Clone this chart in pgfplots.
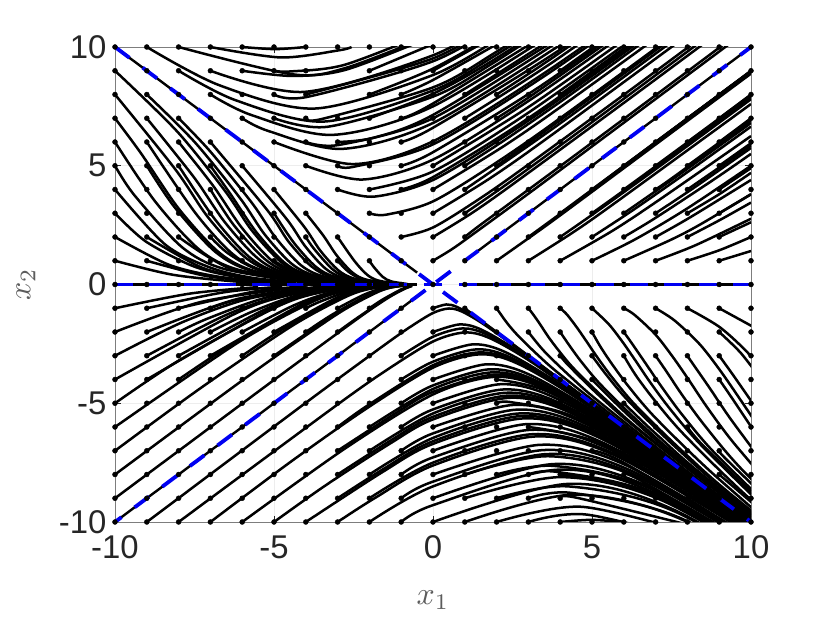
\documentclass[border=0pt]{standalone}
\usepackage{fontspec}
\setmainfont{Liberation Sans}
\usepackage{pgfplots}
\pgfplotsset{compat=1.18}
\definecolor{tk}{gray}{0.15}
\def\lw{2.5bp}
\newcommand\C[1]{\addplot[black,line width=\lw,smooth,tension=0.5] coordinates {#1};}
\newcommand\Cl[1]{\addplot[black,line width=2.4bp] coordinates {#1};}
\begin{document}
\begin{tikzpicture}
\path[use as bounding box] (-115bp,-101bp) rectangle (715bp,522bp);
\begin{axis}[at={(0,0)},anchor=south west,scale only axis,width=636bp,height=475bp,
xmin=-10,xmax=10,ymin=-10,ymax=10,clip mode=individual,
xtick={-10,-5,0,5,10},ytick={-10,-5,0,5,10},
xticklabels={-10,-5,0,5,10},yticklabels={-10,-5,0,5,10},
tick align=inside,major tick length=6bp,
tick style={tk,line width=0.5bp},axis line style={tk!60,line width=0.7bp},
grid=major,grid style={black!7,line width=0.5bp},
ticklabel style={font=\fontsize{33}{33}\selectfont,text=tk},
xticklabel style={yshift=-10bp},yticklabel style={xshift=-5bp},
xlabel={$x_1$},ylabel={$x_2$},
xlabel style={at={(axis description cs:0.5,0)},anchor=center,yshift=-78bp,scale=3.2,text=tk!75},
ylabel style={at={(axis description cs:0,0.5)},anchor=center,yshift=89bp,scale=3.2,text=tk!75},
]
\Cl{(-10,0)(-0.5,0)}\Cl{(1,0)(10,0)}\Cl{(-10,10)(-0.5,0.5)}\Cl{(-10,-10)(-0.6,-0.6)}\Cl{(1,1)(10,10)}\Cl{(1,-1)(10,-10)}
% top wedge
\C{(0,1)(0.6,1.49)(1.28,2.14)(3.29,4.11)(7.26,8.07)(15.2,16)}
\C{(1,2)(1.54,2.56)(3.95,4.93)(8.71,9.68)(18.2,19.2)}
\C{(0,2)(1.19,2.98)(2.56,4.27)(6.58,8.22)(14.5,16.1)}
\C{(1,3)(2.82,4.7)(7.23,9.04)(16,17.8)}
\C{(-1,2)(0,2.4)(1.43,3.58)(3.08,5.13)(7.89,9.86)(17.4,19.4)}
\C{(0,3)(1.79,4.47)(3.85,6.41)(9.86,12.33)}
\C{(1,4)(4.17,6.95)(10.69,13.36)}
\C{(2,5)(4.36,7.27)(11.18,13.97)}
\C{(-2,3)(-1.47,2.94)(0,3.5)(2.09,5.22)(4.49,7.48)(11.51,14.39)}
\C{(0,4)(2.38,5.96)(5.13,8.55)(13.2,16.4)}
\C{(1,5)(2.53,6.33)(5.45,9.08)(14,17.5)}
\C{(-3,4)(-1.85,3.7)(0,4.4)(2.62,6.56)(5.64,9.4)(14.5,18.1)}
\C{(-1,4)(0,4.52)(2.69,6.73)(5.8,9.66)(14.9,18.6)}
\C{(4,8)(5.94,9.89)(15.2,19)}
\C{(-2,4)(0,4.76)(2.84,7.09)(6.1,10.17)}
\C{(0,5)(2.98,7.45)(6.41,10.69)}
\C{(-4,5)(-2.21,4.42)(0,5.26)(3.13,7.84)(6.74,11.24)}
\C{(2,7)(3.24,8.09)(6.96,11.6)}
\C{(-1,5)(0,5.57)(3.32,8.3)(7.14,11.9)}
\C{(4,9)(7.28,12.14)}
\C{(-3,5)(-2.48,4.96)(0,5.9)(3.52,8.79)(7.56,12.6)}
\C{(-5,6)(-2.53,5.07)(0,6.03)(3.59,8.98)(7.73,12.89)}
\C{(1,7)(3.74,9.34)(8.04,13.4)}
\C{(2,8)(3.85,9.63)(8.28,13.8)}
\C{(-1,6)(0,6.6)(3.93,9.83)(8.46,14.1)}
\C{(-6,7)(-5.17,6.46)(-2.86,5.71)(0,6.8)(4.05,10.13)}
\C{(-4,6)(-2.94,5.88)(0,7)(4.17,10.43)}
\C{(-3,6)(-1.86,6.18)(0,7.14)(4.26,10.64)}
\C{(1,8)(4.34,10.85)}
\C{(-7,8)(-5.7,7.13)(-3.15,6.3)(0,7.5)(4.47,11.18)}
\C{(-1,7)(0,7.62)(4.54,11.35)}
\C{(-5,7)(-3.32,6.64)(0,7.91)(1.86,9.3)(4.71,11.79)}
\C{(-2,7)(0,8.03)(1.89,9.44)(4.79,11.96)}
\C{(-8,9)(-6.21,7.76)(-3.43,6.86)(0,8.17)(1.92,9.61)(4.87,12.17)}
\C{(-4,7)(-3.49,6.97)(0,8.3)(1.95,9.76)(4.95,12.37)}
\C{(-1,8)(0,8.61)(2.02,10.13)}
\C{(-9,10)(-6.7,8.38)(-3.7,7.41)(0,8.82)(2.07,10.37)}
\C{(0,9)(2.12,10.58)}
\C{(-2,8)(0,9.09)(2.14,10.69)}
\C{(-5,8)(-3.95,7.9)(0,9.4)(2.21,11.05)}
\C{(-4,8)(0,9.52)(2.24,11.2)}
\C{(-7,9)(-4.05,8.11)(0,9.65)(2.27,11.35)}
\C{(-2,9)(0,10.12)}
\C{(-6,9)(-4.39,8.78)(-2.72,9.05)(0,10.45)}
\C{(-8,10)(-4.42,8.85)(-2.74,9.12)(0,10.53)}
\C{(-5,9)(-4.49,8.97)(-2.78,9.25)(0,10.68)}
\C{(-7,10)(-4.78,9.56)(-2.96,9.86)(-2.56,10)}
\C{(-6,10)(-4.96,9.91)(-4,10)}
% bottom wedge
\def\lw{3bp}
\C{(0,-1)(0.42,-0.84)(0.76,-0.95)(1.32,-1.39)(2.31,-2.33)(5,-5)(10.8,-10.8)}
\C{(-9,-10)(-3.95,-4.93)(-1.54,-2.56)(-0.72,-1.79)(0,-1.2)(0.5,-1.01)(0.91,-1.14)(1.59,-1.67)(2.77,-2.8)(6,-6)(10.8,-10.8)}
\C{(0,-2)(0.84,-1.68)(1.52,-1.9)(2.65,-2.79)(4.62,-4.67)(10,-10)}
\C{(-1,-3)(0,-2.2)(0.92,-1.85)(1.67,-2.09)(2.91,-3.06)(5.08,-5.13)(11,-11)}
\C{(-8,-10)(-3.08,-5.13)(-1.43,-3.58)(0,-2.4)(1,-2.02)(1.82,-2.28)(3.18,-3.34)(5.54,-5.6)(12,-12)}
\C{(0,-3)(1.26,-2.52)(2.28,-2.85)(3.97,-4.18)(6.93,-7)(15,-15)}
\C{(-1,-4)(0,-3.25)(1.37,-2.73)(2.47,-3.09)(4.3,-4.53)(7.51,-7.58)(16.3,-16.3)}
\C{(-3,-6)(-2.03,-5.07)(0,-3.4)(1.43,-2.86)(2.58,-3.23)(4.5,-4.74)(7.85,-7.93)(17,-17)}
\C{(-7,-10)(-4.49,-7.48)(-2.09,-5.22)(0,-3.5)(1.47,-2.94)(2.66,-3.33)(4.63,-4.88)(8.09,-8.17)(17.5,-17.5)}
\C{(0,-4)(1.68,-3.36)(3.04,-3.8)(5.29,-5.57)(9.24,-9.33)(20,-20)}
\C{(-1,-5)(0,-4.25)(1.79,-3.57)(3.23,-4.04)(5.62,-5.92)(9.82,-9.92)(21,-21)}
\C{(-2,-6)(0,-4.4)(1.85,-3.7)(3.34,-4.18)(5.82,-6.13)(10.16,-10.27)}
\C{(-3,-7)(-1.06,-5.32)(0,-4.52)(1.9,-3.8)(3.44,-4.29)(5.98,-6.3)(10.44,-10.55)}
\C{(-6,-10)(-2.76,-6.9)(0,-4.63)(1.94,-3.89)(3.52,-4.4)(6.13,-6.45)(10.7,-10.8)}
\C{(2,-4)(3.62,-4.52)(6.3,-6.63)(11,-11.1)}
\C{(0,-5)(2.1,-4.2)(3.8,-4.75)(6.62,-6.97)(11.55,-11.67)}
\C{(-1,-6)(0,-5.26)(2.21,-4.42)(4,-5)(6.96,-7.33)(12.15,-12.27)}
\C{(-2,-7)(0,-5.43)(2.28,-4.56)(4.13,-5.16)(7.18,-7.56)(12.5,-12.67)}
\C{(-3,-8)(-1.31,-6.55)(0,-5.57)(2.34,-4.68)(4.23,-5.29)(7.37,-7.76)(12.87,-13)}
\C{(-5,-10)(-3.38,-8.46)(-1.33,-6.68)(0,-5.68)(2.39,-4.77)(4.32,-5.4)(7.51,-7.91)(13.1,-13.2)}
\C{(2,-5)(2.48,-4.96)(4.48,-5.6)(7.8,-8.22)(13.6,-13.8)}
\C{(0,-6)(2.53,-5.07)(4.58,-5.73)(7.98,-8.4)(13.9,-14.07)}
\C{(-1,-7)(0,-6.27)(2.63,-5.27)(4.77,-5.96)(8.3,-8.73)(14.5,-14.6)}
\C{(-2,-8)(0,-6.46)(2.71,-5.43)(4.91,-6.14)(8.55,-9)(14.9,-15.1)}
\C{(-3,-9)(-1.55,-7.76)(0,-6.6)(2.77,-5.54)(5.02,-6.27)(8.73,-9.19)(15.2,-15.4)}
\C{(-4,-10)(-1.58,-7.89)(0,-6.71)(2.82,-5.64)(5.1,-6.37)(8.88,-9.35)(15.5,-15.65)}
\C{(6,-7)(8.99,-9.47)(15.7,-15.9)}
\C{(0,-7)(2.94,-5.88)(5.32,-6.65)(9.26,-9.75)(16.2,-16.3)}
\C{(3,-6)(5.43,-6.78)(9.45,-9.95)(16.5,-16.7)}
\C{(-1,-8)(0,-7.28)(3.06,-6.12)(5.53,-6.92)(9.63,-10.14)}
\C{(-2,-9)(0,-7.5)(3.15,-6.3)(5.7,-7.13)(9.92,-10.45)}
\C{(-3,-10)(-1.79,-8.96)(0,-7.62)(3.2,-6.4)(5.79,-7.24)(10.08,-10.6)}
\C{(5,-7)(6.01,-7.51)(10.46,-11)}
\C{(0,-8)(3.37,-6.75)(6.1,-7.63)(10.62,-11.2)}
\C{(8,-9)(10.8,-11.38)}
\C{(-1,-9)(0,-8.3)(3.49,-6.97)(6.31,-7.89)(10.98,-11.56)}
\C{(-2,-10)(0,-8.5)(3.57,-7.14)(6.46,-8.08)(11.25,-11.84)}
\C{(1,-8)(3.62,-7.23)(6.54,-8.18)(11.39,-12)}
\C{(6,-8)(6.7,-8.38)(11.67,-12.29)}
\C{(0,-9)(3.78,-7.56)(6.84,-8.55)(11.9,-12.5)}
\C{(2,-8)(3.82,-7.64)(6.91,-8.64)(12,-12.66)}
\C{(-1,-10)(0,-9.29)(3.9,-7.8)(7.06,-8.83)(12.3,-12.9)}
\C{(3,-8)(3.95,-7.9)(7.14,-8.93)(12.44,-13.1)}
\C{(4,-8)(7.24,-9.04)(12.6,-13.26)}
\C{(1,-9)(4.05,-8.11)(7.33,-9.17)(12.77,-13.44)}
\C{(0,-10)(4.2,-8.4)(7.6,-9.5)(13.2,-13.9)}
\C{(2,-9)(4.25,-8.5)(7.69,-9.61)(13.4,-14.1)}
\C{(3,-9)(4.39,-8.78)(7.94,-9.93)(13.8,-14.6)}
\C{(1,-10)(4.42,-8.85)(8,-10)(13.9,-14.7)}
\C{(4,-9)(4.49,-8.97)(8.12,-10.15)}
\C{(2,-10)(4.68,-9.36)(8.47,-10.58)}
\C{(3,-10)(4.85,-9.69)(8.77,-10.96)}
\C{(4,-10)(4.96,-9.91)(6,-10)}
% upper left wedge
\def\lw{2.8bp}
\C{(-10,1)(-8.18,0.41)(-6.14,0.12)(-4.9,0.05)}
\C{(-9,1)(-7.14,0.36)(-5.36,0.11)}
\C{(-10,2)(-8.32,0.84)(-6.8,0.34)(-5.11,0.1)}
\C{(-10,3)(-9.03,1.81)(-7.52,0.76)(-6.14,0.31)(-4.61,0.09)}
\C{(-9,2)(-7.3,0.73)(-5.96,0.3)(-4.48,0.09)}
\C{(-10,4)(-8.42,1.68)(-7,0.71)(-5.72,0.29)(-4.3,0.09)}
\C{(-10,5)(-9.39,3.76)(-7.9,1.58)(-6.58,0.66)(-4.03,0.08)}
\C{(-8,2)(-6.32,0.64)(-3.88,0.08)}
\C{(-10,6)(-8.74,3.5)(-7.35,1.47)(-6.12,0.62)(-3.75,0.08)}
\C{(-9,5)(-8.13,3.26)(-6.84,1.37)(-5.69,0.57)(-3.49,0.07)}
\C{(-10,7)(-9.17,5.5)(-8,3.2)(-6.73,1.35)(-5.6,0.56)(-3.44,0.07)}
\C{(-7,2)(-6.41,1.28)(-5.33,0.54)(-3.27,0.07)}
\C{(-9,6)(-7.46,2.99)(-6.27,1.25)(-5.22,0.53)(-3.2,0.06)}
\C{(-10,8)(-8.11,4.86)(-7.08,2.84)(-5.95,1.19)(-4.96,0.5)(-3.04,0.06)}
\C{(-8,5)(-6.86,2.75)(-5.78,1.16)(-4.81,0.48)(-2.95,0.06)}
\C{(-9,7)(-7.51,4.5)(-6.55,2.63)(-5.51,1.1)(-4.59,0.46)(-2.81,0.06)}
\C{(-7,4)(-6.27,2.51)(-5.28,1.06)(-4.39,0.44)(-2.69,0.05)}
\C{(-8,6)(-6.91,4.15)(-6.03,2.42)(-5.08,1.02)(-4.23,0.43)(-2.59,0.05)}
\C{(-5,1)(-4.16,0.42)(-2.55,0.05)}
\C{(-10,9)(-8.05,6.45)(-6.53,3.92)(-5.7,2.28)(-4.79,0.96)(-3.99,0.4)(-2.45,0.05)}
\C{(-7,5)(-6.38,3.83)(-5.57,2.23)(-4.69,0.94)(-3.9,0.39)(-2.39,0.05)}
\C{(-9,8)(-7.49,5.99)(-6.07,3.64)(-5.3,2.12)(-4.46,0.89)(-3.71,0.37)(-2.28,0.05)}
\C{(-8,7)(-7.01,5.61)(-5.68,3.41)(-4.96,1.99)(-4.17,0.83)(-3.47,0.35)(-2.13,0.04)}
\C{(-7,6)(-5.21,3.13)(-4.55,1.82)(-3.83,0.77)(-3.19,0.32)(-1.95,0.04)}
\C{(-5,3)(-4.37,1.75)(-3.68,0.74)(-3.06,0.31)(-1.88,0.04)}
\C{(-6,5)(-4.61,2.77)(-4.02,1.61)(-3.39,0.68)(-2.82,0.28)(-1.73,0.03)}
\C{(-4,2)(-3.74,1.5)(-3.15,0.63)(-2.62,0.26)(-1.61,0.03)}
\C{(-5,4)(-4.05,2.43)(-3.54,1.42)(-2.98,0.6)(-2.48,0.25)(-1.52,0.03)}
\C{(-3,1)(-2.65,0.53)(-2.21,0.22)(-1.35,0.03)}
\C{(-4,3)(-3.46,2.08)(-3.02,1.21)(-2.54,0.51)(-2.12,0.21)(-1.3,0.03)}
\C{(-3,2)(-2.47,0.99)(-2.08,0.42)(-1.73,0.17)(-1.06,0.02)}
\C{(-2,1)(-1.87,0.75)(-1.58,0.32)(-1.31,0.13)(-0.8,0.02)}
% lower right wedge
\C{(2,-1)(2.15,-1.29)(2.34,-1.64)(2.65,-2.12)(3.29,-2.96)(4.1,-3.9)(6.98,-6.9)(15,-15)}
\C{(3,-2)(3.49,-2.8)(4.34,-3.9)(5.42,-5.15)(9.2,-9.1)(19.8,-19.8)}
\C{(4,-3)(4.27,-3.42)(5.3,-4.77)(6.62,-6.29)(11.25,-11.13)}
\C{(3,-1)(3.15,-1.26)(3.37,-1.68)(3.61,-2.17)(3.94,-2.76)(4.45,-3.57)(5.53,-4.97)(6.91,-6.57)(11.74,-11.6)}
\C{(5,-4)(6.2,-5.58)(7.76,-7.37)(13.2,-13)}
\C{(4,-2)(4.29,-2.57)(4.68,-3.28)(5.29,-4.24)(6.57,-5.91)(8.21,-7.8)(13.95,-13.8)}
\C{(6,-5)(7.06,-6.35)(8.82,-8.39)(15,-14.8)}
\C{(5,-3)(5.46,-3.82)(6.17,-4.94)(7.67,-6.9)(9.58,-9.1)(16.3,-16.1)}
\C{(4,-1)(4.21,-1.26)(4.53,-1.82)(4.84,-2.42)(5.19,-3.11)(5.66,-3.96)(6.4,-5.13)(7.95,-7.15)(9.93,-9.44)(16.9,-16.7)}
\C{(5,-2)(5.27,-2.63)(5.65,-3.39)(6.16,-4.31)(6.97,-5.58)(8.65,-7.78)(10.8,-10.3)}
\C{(9,-8)(11.6,-11)}
\C{(6,-3)(6.38,-3.83)(6.97,-4.88)(7.88,-6.3)(9.78,-8.8)(12.2,-11.6)}
\C{(5,-1)(5.52,-1.66)(5.94,-2.38)(6.35,-3.17)(6.81,-4.08)(7.43,-5.2)(8.4,-6.72)(10.42,-9.38)}
\C{(8,-6)(8.53,-6.83)(10.6,-9.5)}
\C{(6,-2)(6.27,-2.51)(6.7,-3.35)(7.19,-4.31)(7.84,-5.49)(8.86,-7.1)(11,-9.9)}
\C{(9,-7)(9.26,-7.41)(11.5,-10.3)}
\C{(7,-3)(7.34,-3.66)(7.87,-4.72)(8.58,-6)(9.7,-7.77)(12,-10.8)}
\C{(6,-1)(6.33,-1.27)(6.99,-2.1)(7.52,-3.01)(8.04,-4.01)(8.62,-5.17)(9.4,-6.58)(10.63,-8.51)}
\C{(8,-3)(8.13,-3.26)(8.69,-4.34)(9.32,-5.59)(10.16,-7.11)}
\C{(9,-4)(9.34,-4.66)(10.01,-6)}
\C{(7,-1)(7.6,-1.52)(8.39,-2.52)(9.03,-3.62)(9.65,-4.82)(10.35,-6.21)}
\C{(9,-3)(9.42,-3.78)(10.07,-5.03)}
\C{(9,-2)(9.69,-2.9)(10.42,-4.18)}
\C{(8,-1)(9.03,-1.81)(9.98,-2.99)(10.73,-4.3)}
\C{(9,-1)(10.5,-2.1)}
% upper right wedge
\def\lw{2.4bp}
\C{(2,1)(3.58,2.5)(5.5,4.4)(10,8.88)}
\C{(3,1)(4.41,2.2)(5.73,3.44)(10,7.6)}
\C{(3,2)(5.18,4.14)(10,8.95)}
\C{(4,1)(5.63,2.25)(7.11,3.56)(10,6.25)}
\C{(4,2)(5.2,3.12)(7.15,5)(10,7.8)}
\C{(4,3)(6.82,5.8)(10,8.97)}
\C{(5,1)(6.37,1.91)(7.98,3.19)(10,5)}
\C{(5,2)(6.32,3.16)(8.21,4.93)(10,6.65)}
\C{(5,3)(6.88,4.81)(10,7.9)}
\C{(5,4)(6.73,5.72)(10,8.97)}
\C{(6,1)(7.46,1.87)(8.38,2.51)(10,3.8)}
\C{(6,2)(6.98,2.79)(8.82,4.41)(10,5.5)}
\C{(6,3)(7.8,4.68)(10,6.8)}
\C{(6,4)(8.19,6.14)(10,7.95)}
\C{(6,5)(10,8.98)}
\C{(7,1)(8.25,1.65)(10,2.77)}
\C{(7,2)(8.09,2.83)(10,4.4)}
\C{(7,3)(8.28,4.14)(10,5.75)}
\C{(7,4)(7.59,4.55)(10,6.9)}
\C{(7,5)(10,7.95)}
\C{(7,6)(10,8.98)}
\C{(8,1)(9,1.44)(10,2)}
\C{(8,2)(9,2.7)(10,3.45)}
\C{(8,3)(9,3.8)(10,4.7)}
\C{(8,4)(10,5.85)}
\C{(8,5)(10,6.95)}
\C{(8,6)(10,7.98)}
\C{(8,7)(10,8.98)}
\C{(9,1)(10,1.41)}
\C{(9,2)(10,2.62)}
\C{(9,3)(10,3.8)}
\C{(9,4)(10,4.9)}
\C{(9,5)(10,5.95)}
\C{(9,6)(10,7)}
\C{(9,7)(10,8)}
\C{(9,8)(10,9)}
% lower left wedge
\def\lw{2.5bp}
\C{(-10,-9)(-4.92,-3.94)(-2.33,-1.4)(-1.42,-0.57)(-0.89,-0.18)(-0.65,-0.06)}
\C{(-3,-2)(-2.45,-1.47)(-1.49,-0.6)(-0.93,-0.19)(-0.68,-0.07)}
\C{(-2,-1)(-1.58,-0.63)(-0.99,-0.2)(-0.72,-0.07)}
\C{(-10,-8)(-6.57,-4.6)(-4.78,-2.87)(-2.91,-1.16)(-1.82,-0.37)(-1.33,-0.13)(-0.73,-0.01)}
\C{(-5,-3)(-3.04,-1.22)(-1.91,-0.38)(-1.39,-0.14)(-0.76,-0.02)}
\C{(-4,-2)(-3.16,-1.26)(-1.98,-0.4)(-1.44,-0.14)(-0.79,-0.02)}
\C{(-3,-1)(-2.19,-0.44)(-1.59,-0.16)(-0.87,-0.02)}
\C{(-10,-7)(-7.39,-4.44)(-4.5,-1.8)(-2.82,-0.57)(-2.05,-0.2)(-1.13,-0.02)}
\C{(-6,-3)(-4.75,-1.9)(-2.98,-0.6)(-2.17,-0.22)(-1.19,-0.02)}
\C{(-5,-2)(-3.14,-0.63)(-2.28,-0.23)(-1.25,-0.03)}
\C{(-4,-1)(-3.53,-0.71)(-2.57,-0.26)(-1.41,-0.03)}
\C{(-10,-6)(-6.15,-2.46)(-3.85,-0.77)(-2.8,-0.28)(-1.54,-0.03)}
\C{(-8,-4)(-6.33,-2.53)(-3.97,-0.8)(-2.89,-0.29)(-1.59,-0.03)}
\C{(-7,-3)(-4.11,-0.82)(-2.99,-0.3)(-1.64,-0.03)}
\C{(-6,-2)(-4.38,-0.88)(-3.18,-0.32)(-1.75,-0.03)}
\C{(-10,-5)(-7.98,-3.19)(-5,-1)(-3.64,-0.36)(-2,-0.04)}
\C{(-9,-4)(-5.1,-1.02)(-3.7,-0.37)(-2.04,-0.04)}
\C{(-8,-3)(-5.3,-1.06)(-3.86,-0.39)(-2.12,-0.04)}
\C{(-7,-2)(-5.68,-1.14)(-4.13,-0.41)(-2.27,-0.05)}
\C{(-10,-4)(-6.27,-1.26)(-4.56,-0.46)(-2.51,-0.05)}
\C{(-9,-3)(-6.57,-1.32)(-4.78,-0.48)(-2.63,-0.05)}
\C{(-8,-2)(-7.06,-1.42)(-5.13,-0.51)(-2.82,-0.06)}
\C{(-10,-3)(-7.85,-1.57)(-5.71,-0.57)(-3.14,-0.06)}
\C{(-7,-1)(-6,-0.6)(-3.3,-0.07)}
\C{(-9,-2)(-6.18,-0.62)(-3.4,-0.07)}
\C{(-10,-2)(-7.28,-0.73)(-4,-0.08)}
\C{(-8,-1)(-5.55,-0.28)(-4,-0.08)}
\C{(-9,-1)(-6.58,-0.33)(-4.74,-0.09)}
\C{(-10,-1)(-7.63,-0.38)(-5.5,-0.11)}
% blue dashed invariant lines
\addplot[blue!95!black,line width=3.8bp,dash pattern=on 18bp off 16.3bp] coordinates {(-10,0)(0,0)};
\addplot[blue!95!black,line width=3.8bp,dash pattern=on 18bp off 16.3bp] coordinates {(10,0)(0,0)};
\addplot[blue!95!black,line width=3.8bp,dash pattern=on 18bp off 16.5bp] coordinates {(-10,10)(0,0)};
\addplot[blue!95!black,line width=3.8bp,dash pattern=on 18bp off 16.5bp,dash phase=10bp] coordinates {(-10,-10)(0,0)};
\addplot[blue!95!black,line width=3.8bp,dash pattern=on 18bp off 16.5bp,dash phase=30.5bp] coordinates {(0,0)(10,10)};
\addplot[blue!95!black,line width=3.8bp,dash pattern=on 18bp off 16.5bp,dash phase=22bp] coordinates {(0,0)(10,-10)};
% start points
\addplot[only marks,mark=*,mark size=2.5bp,black] table {
-10 10
-9 10
-8 10
-7 10
-6 10
-5 10
-4 10
-3 10
-2 10
-1 10
0 10
1 10
2 10
3 10
4 10
5 10
6 10
7 10
8 10
9 10
10 10
-10 9
-9 9
-8 9
-7 9
-6 9
-5 9
-4 9
-2 9
-1 9
0 9
1 9
2 9
3 9
4 9
5 9
6 9
7 9
8 9
9 9
10 9
-10 8
-9 8
-8 8
-7 8
-6 8
-5 8
-4 8
-2 8
-1 8
0 8
1 8
2 8
3 8
4 8
5 8
6 8
7 8
8 8
9 8
10 8
-10 7
-9 7
-8 7
-7 7
-6 7
-5 7
-4 7
-3 7
-2 7
-1 7
0 7
1 7
2 7
3 7
4 7
5 7
6 7
7 7
8 7
9 7
10 7
-10 6
-9 6
-8 6
-7 6
-6 6
-5 6
-4 6
-3 6
-2 6
-1 6
0 6
1 6
2 6
3 6
4 6
5 6
6 6
7 6
8 6
9 6
10 6
-10 5
-9 5
-8 5
-7 5
-6 5
-5 5
-4 5
-3 5
-2 5
-1 5
0 5
1 5
2 5
3 5
4 5
5 5
6 5
7 5
8 5
9 5
10 5
-10 4
-9 4
-8 4
-7 4
-6 4
-5 4
-4 4
-3 4
-2 4
-1 4
0 4
1 4
2 4
3 4
4 4
5 4
6 4
7 4
8 4
9 4
10 4
-10 3
-9 3
-8 3
-7 3
-6 3
-5 3
-4 3
-3 3
-2 3
-1 3
0 3
1 3
2 3
3 3
4 3
5 3
6 3
7 3
8 3
9 3
10 3
-10 2
-9 2
-8 2
-7 2
-6 2
-5 2
-4 2
-3 2
-2 2
-1 2
0 2
1 2
2 2
3 2
4 2
5 2
6 2
7 2
8 2
9 2
10 2
-10 1
-9 1
-8 1
-7 1
-6 1
-5 1
-4 1
-3 1
-2 1
-1 1
0 1
1 1
2 1
3 1
4 1
5 1
6 1
7 1
8 1
9 1
10 1
-10 0
-9 0
-8 0
-7 0
-6 0
-5 0
-4 0
-3 0
-2 0
-1 0
0 0
1 0
2 0
3 0
4 0
5 0
6 0
7 0
8 0
9 0
10 0
-10 -1
-9 -1
-8 -1
-7 -1
-6 -1
-5 -1
-4 -1
-3 -1
-2 -1
-1 -1
0 -1
1 -1
2 -1
3 -1
4 -1
5 -1
6 -1
7 -1
8 -1
9 -1
10 -1
-10 -2
-9 -2
-8 -2
-7 -2
-6 -2
-5 -2
-4 -2
-3 -2
-2 -2
-1 -2
0 -2
1 -2
2 -2
3 -2
4 -2
5 -2
6 -2
7 -2
8 -2
9 -2
10 -2
-10 -3
-9 -3
-8 -3
-7 -3
-6 -3
-5 -3
-4 -3
-3 -3
-2 -3
-1 -3
0 -3
1 -3
2 -3
3 -3
4 -3
5 -3
6 -3
7 -3
8 -3
9 -3
10 -3
-10 -4
-9 -4
-8 -4
-7 -4
-6 -4
-5 -4
-4 -4
-3 -4
-2 -4
-1 -4
0 -4
1 -4
2 -4
3 -4
4 -4
5 -4
6 -4
7 -4
8 -4
9 -4
10 -4
-10 -5
-9 -5
-8 -5
-7 -5
-6 -5
-5 -5
-4 -5
-3 -5
-2 -5
-1 -5
0 -5
1 -5
2 -5
3 -5
4 -5
5 -5
6 -5
7 -5
8 -5
9 -5
10 -5
-10 -6
-9 -6
-8 -6
-7 -6
-6 -6
-5 -6
-4 -6
-3 -6
-2 -6
-1 -6
0 -6
1 -6
2 -6
3 -6
4 -6
5 -6
6 -6
7 -6
8 -6
9 -6
10 -6
-10 -7
-9 -7
-8 -7
-7 -7
-6 -7
-5 -7
-4 -7
-3 -7
-2 -7
-1 -7
0 -7
1 -7
2 -7
3 -7
4 -7
5 -7
6 -7
7 -7
8 -7
9 -7
10 -7
-10 -8
-9 -8
-8 -8
-7 -8
-6 -8
-5 -8
-4 -8
-3 -8
-2 -8
-1 -8
0 -8
1 -8
2 -8
3 -8
4 -8
5 -8
6 -8
7 -8
8 -8
9 -8
10 -8
-10 -9
-9 -9
-8 -9
-7 -9
-6 -9
-5 -9
-4 -9
-3 -9
-2 -9
-1 -9
0 -9
1 -9
2 -9
3 -9
4 -9
5 -9
6 -9
7 -9
8 -9
9 -9
10 -9
-10 -10
-9 -10
-8 -10
-7 -10
-6 -10
-5 -10
-4 -10
-3 -10
-2 -10
-1 -10
0 -10
1 -10
2 -10
3 -10
4 -10
5 -10
6 -10
7 -10
8 -10
9 -10
10 -10
};
\end{axis}
\end{tikzpicture}
\end{document}
